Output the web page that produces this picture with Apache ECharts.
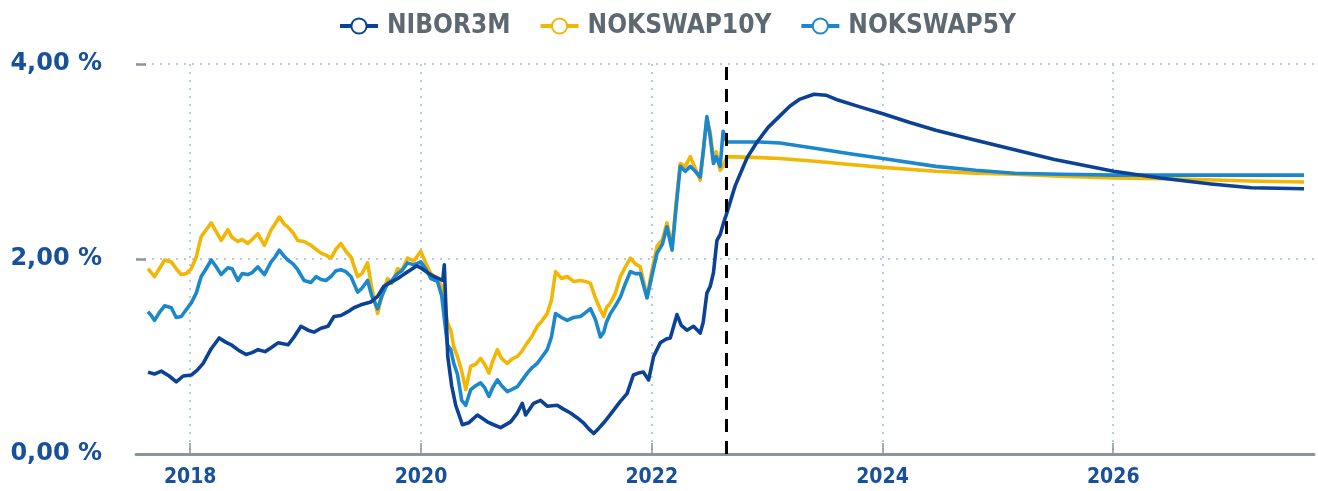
<!DOCTYPE html>
<html>
<head>
<meta charset="utf-8">
<script src="https://cdn.jsdelivr.net/npm/echarts@6/dist/echarts.min.js"></script>
<style>
  html, body { margin: 0; padding: 0; background: #ffffff; }
  #chart { width: 1318px; height: 491px; }
</style>
</head>
<body>
<div id="chart"></div>
<script>
// ---- Data (dates given as decimal years) ----
const seriesNames = ['NIBOR3M', 'NOKSWAP10Y', 'NOKSWAP5Y'];
const yearTicks = [2018, 2020, 2022, 2024, 2026];
const forecastStart = 2022.65;

const nibor3mT = [
  2017.634, 2017.689, 2017.749, 2017.818, 2017.879, 2017.939, 2018.009, 2018.061, 2018.112, 2018.182,
  2018.251, 2018.303, 2018.355, 2018.424, 2018.484, 2018.536, 2018.588, 2018.649, 2018.701, 2018.761,
  2018.848, 2018.900, 2018.960, 2019.021, 2019.073, 2019.133, 2019.194, 2019.246, 2019.306, 2019.367,
  2019.419, 2019.479, 2019.566, 2019.626, 2019.678, 2019.739, 2019.799, 2019.860, 2019.912, 2019.964,
  2019.998, 2020.059, 2020.111, 2020.154, 2020.189, 2020.202, 2020.232, 2020.266, 2020.301, 2020.359,
  2020.413, 2020.489, 2020.575, 2020.630, 2020.690, 2020.777, 2020.835, 2020.878, 2020.907, 2020.976,
  2021.036, 2021.094, 2021.181, 2021.235, 2021.296, 2021.356, 2021.408, 2021.452, 2021.497, 2021.538,
  2021.584, 2021.625, 2021.670, 2021.728, 2021.786, 2021.841, 2021.884, 2021.927, 2021.973, 2022.016,
  2022.074, 2022.126, 2022.161, 2022.219, 2022.256, 2022.305, 2022.362, 2022.420, 2022.446, 2022.478,
  2022.507, 2022.535, 2022.565, 2022.593, 2022.622, 2022.645,
  2022.723, 2022.784, 2022.827, 2022.913, 2023.009, 2023.104, 2023.199, 2023.285, 2023.406, 2023.510,
  2023.614, 2023.804, 2024.003, 2024.237, 2024.462, 2024.799, 2025.145, 2025.491, 2025.829, 2026.002,
  2026.408, 2026.849, 2027.195, 2027.654
];
const nibor3mV = [
  0.84, 0.82, 0.85, 0.80, 0.74, 0.80, 0.81, 0.86, 0.93, 1.08,
  1.19, 1.15, 1.12, 1.06, 1.02, 1.04, 1.07, 1.05, 1.09, 1.14,
  1.12, 1.20, 1.31, 1.27, 1.25, 1.29, 1.31, 1.41, 1.42, 1.46,
  1.50, 1.53, 1.56, 1.62, 1.72, 1.76, 1.80, 1.85, 1.89, 1.93,
  1.91, 1.86, 1.82, 1.80, 1.78, 1.94, 1.00, 0.70, 0.50, 0.30,
  0.32, 0.40, 0.33, 0.30, 0.27, 0.33, 0.42, 0.52, 0.40, 0.52,
  0.55, 0.49, 0.50, 0.46, 0.42, 0.37, 0.32, 0.26, 0.21, 0.26,
  0.32, 0.38, 0.45, 0.54, 0.62, 0.81, 0.83, 0.84, 0.76, 1.00,
  1.14, 1.18, 1.19, 1.43, 1.32, 1.27, 1.31, 1.24, 1.35, 1.65,
  1.72, 1.86, 2.19, 2.25, 2.37, 2.45,
  2.75, 2.92, 3.04, 3.20, 3.35, 3.46, 3.57, 3.64, 3.69, 3.68,
  3.63, 3.56, 3.49, 3.40, 3.32, 3.22, 3.12, 3.02, 2.94, 2.90,
  2.83, 2.77, 2.73, 2.72
];

const swapT = [
  2017.634, 2017.663, 2017.691, 2017.732, 2017.778, 2017.836, 2017.879, 2017.922, 2017.965, 2018.009,
  2018.052, 2018.095, 2018.138, 2018.182, 2018.225, 2018.268, 2018.326, 2018.363, 2018.413, 2018.450,
  2018.499, 2018.536, 2018.586, 2018.643, 2018.701, 2018.735, 2018.772, 2018.813, 2018.845, 2018.891,
  2018.932, 2018.986, 2019.047, 2019.090, 2019.133, 2019.176, 2019.220, 2019.263, 2019.306, 2019.349,
  2019.393, 2019.451, 2019.488, 2019.537, 2019.574, 2019.624, 2019.661, 2019.710, 2019.747, 2019.797,
  2019.834, 2019.883, 2019.938, 2019.998, 2020.041, 2020.085, 2020.143, 2020.180, 2020.229, 2020.258,
  2020.284, 2020.316, 2020.353, 2020.388, 2020.431, 2020.474, 2020.517, 2020.552, 2020.589, 2020.621,
  2020.662, 2020.699, 2020.748, 2020.785, 2020.835, 2020.872, 2020.921, 2020.958, 2021.008, 2021.045,
  2021.094, 2021.131, 2021.166, 2021.218, 2021.267, 2021.322, 2021.382, 2021.426, 2021.469, 2021.512,
  2021.555, 2021.584, 2021.607, 2021.642, 2021.685, 2021.728, 2021.772, 2021.815, 2021.858, 2021.901,
  2021.959, 2021.996, 2022.046, 2022.092, 2022.132, 2022.176, 2022.213, 2022.247, 2022.291, 2022.334,
  2022.377, 2022.420, 2022.446, 2022.478, 2022.507, 2022.535, 2022.559, 2022.593, 2022.619, 2022.651,
  2022.939, 2023.112, 2023.441, 2023.718, 2024.003, 2024.462, 2024.808, 2025.145, 2025.534, 2026.002,
  2026.573, 2027.178, 2027.654
];
const nokswap10yV = [
  1.90, 1.86, 1.82, 1.90, 1.99, 1.97, 1.90, 1.84, 1.85, 1.90,
  2.02, 2.23, 2.30, 2.37, 2.28, 2.19, 2.30, 2.22, 2.18, 2.20,
  2.16, 2.20, 2.26, 2.14, 2.30, 2.36, 2.43, 2.36, 2.33, 2.27,
  2.19, 2.18, 2.14, 2.10, 2.06, 2.04, 2.01, 2.10, 2.16, 2.08,
  2.02, 1.82, 1.85, 1.96, 1.70, 1.44, 1.62, 1.80, 1.75, 1.90,
  1.88, 2.01, 1.98, 2.08, 1.96, 1.85, 1.80, 1.72, 1.35, 1.27,
  1.10, 1.00, 0.85, 0.66, 0.90, 0.92, 0.98, 0.92, 0.83, 0.95,
  1.07, 0.98, 0.93, 0.97, 1.00, 1.05, 1.14, 1.20, 1.31, 1.36,
  1.44, 1.58, 1.87, 1.80, 1.82, 1.77, 1.78, 1.77, 1.75, 1.60,
  1.48, 1.41, 1.50, 1.55, 1.65, 1.82, 1.92, 2.01, 1.95, 1.92,
  1.61, 1.85, 2.13, 2.20, 2.37, 2.13, 2.60, 2.98, 2.95, 3.05,
  2.93, 2.81, 3.10, 3.44, 3.30, 3.02, 3.10, 2.91, 2.95, 3.05,
  3.04, 3.03, 3.00, 2.97, 2.94, 2.90, 2.88, 2.87, 2.85, 2.83,
  2.82, 2.80, 2.79
];
const nokswap5yV = [
  1.46, 1.42, 1.37, 1.45, 1.52, 1.50, 1.40, 1.41, 1.48, 1.55,
  1.65, 1.82, 1.90, 1.99, 1.92, 1.84, 1.91, 1.90, 1.78, 1.85,
  1.84, 1.86, 1.92, 1.84, 1.97, 2.02, 2.09, 2.03, 1.99, 1.95,
  1.89, 1.78, 1.76, 1.82, 1.79, 1.78, 1.82, 1.88, 1.89, 1.87,
  1.82, 1.66, 1.70, 1.78, 1.62, 1.49, 1.62, 1.75, 1.78, 1.85,
  1.88, 1.96, 1.94, 1.97, 1.90, 1.80, 1.77, 1.62, 1.12, 1.07,
  0.93, 0.82, 0.55, 0.50, 0.66, 0.70, 0.73, 0.68, 0.59, 0.68,
  0.76, 0.70, 0.64, 0.66, 0.69, 0.75, 0.83, 0.88, 0.93, 0.99,
  1.07, 1.20, 1.44, 1.40, 1.37, 1.40, 1.41, 1.45, 1.49, 1.38,
  1.20, 1.25, 1.35, 1.44, 1.52, 1.61, 1.75, 1.87, 1.85, 1.85,
  1.60, 1.80, 2.06, 2.15, 2.33, 2.09, 2.55, 2.95, 2.90, 2.95,
  2.90, 2.84, 3.10, 3.46, 3.25, 2.98, 3.05, 2.95, 3.31, 3.20,
  3.20, 3.19, 3.13, 3.08, 3.03, 2.95, 2.91, 2.88, 2.87, 2.86,
  2.86, 2.86, 2.86
];

function pairs(ts, vs) { return ts.map((t, i) => [t, vs[i]]); }

const colors = { NIBOR3M: '#0b4296', NOKSWAP10Y: '#f2b705', NOKSWAP5Y: '#1b87cc' };
const gridDot = '#b5c9e6';
const axisGray = '#8c959c';
const labelBlue = '#17509c';

const chart = echarts.init(document.getElementById('chart'), null, { renderer: 'canvas' });

function lineSeries(name, data, z) {
  return {
    name: name, type: 'line', data: data, z: z,
    showSymbol: false, symbol: 'emptyCircle', symbolSize: 12,
    lineStyle: { width: 3.6, color: colors[name], join: 'round' },
    itemStyle: { color: colors[name], borderWidth: 3.5 },
    emphasis: { disabled: true },
    animation: false
  };
}

const s10 = lineSeries('NOKSWAP10Y', pairs(swapT, nokswap10yV), 2);
const s5 = lineSeries('NOKSWAP5Y', pairs(swapT, nokswap5yV), 3);
const sN = lineSeries('NIBOR3M', pairs(nibor3mT, nibor3mV), 4);
sN.markLine = {
  silent: true, symbol: 'none', label: { show: false }, animation: false,
  lineStyle: { color: '#000000', type: [13, 9], width: 3 },
  data: [{ xAxis: forecastStart }]
};

chart.setOption({
  backgroundColor: '#ffffff',
  animation: false,
  legend: {
    data: seriesNames,
    left: 333, top: 8,
    itemWidth: 38, itemHeight: 19, itemGap: 28,
    itemStyle: { borderWidth: 3.5 },
    lineStyle: { width: 4 },
    textStyle: { fontFamily: 'DejaVu Sans Condensed', fontWeight: 'bold', fontSize: 26, color: '#5e6871', padding: [0, 0, 0, 4] }
  },
  grid: { left: 136, right: 4, top: 64, bottom: 37 },
  xAxis: {
    type: 'value',
    min: 2017.53, max: 2027.74,
    axisLine: { show: true, lineStyle: { color: axisGray, width: 3 } },
    axisTick: { show: true, inside: true, length: 11, lineStyle: { color: axisGray, width: 1.5 },
      customValues: yearTicks },
    axisLabel: { customValues: yearTicks, margin: 13,
      formatter: v => String(Math.round(v)),
      fontFamily: 'DejaVu Sans Condensed', fontWeight: 'bold', fontSize: 21, color: labelBlue },
    splitLine: { show: true, lineStyle: { color: gridDot, type: [2, 6], width: 2 } }
  },
  yAxis: {
    type: 'value', min: 0, max: 4, interval: 2,
    axisLine: { show: false },
    axisTick: { show: true, inside: true, length: 10, lineStyle: { color: axisGray, width: 2.5 } },
    axisLabel: { margin: 34,
      formatter: v => v.toFixed(2).replace('.', ',') + ' %',
      fontFamily: 'DejaVu Sans', fontWeight: 'bold', fontSize: 24, color: labelBlue },
    splitLine: { show: true, lineStyle: { color: gridDot, type: [2, 6], width: 2 } }
  },
  series: [sN, s10, s5]
});
</script>
</body>
</html>
